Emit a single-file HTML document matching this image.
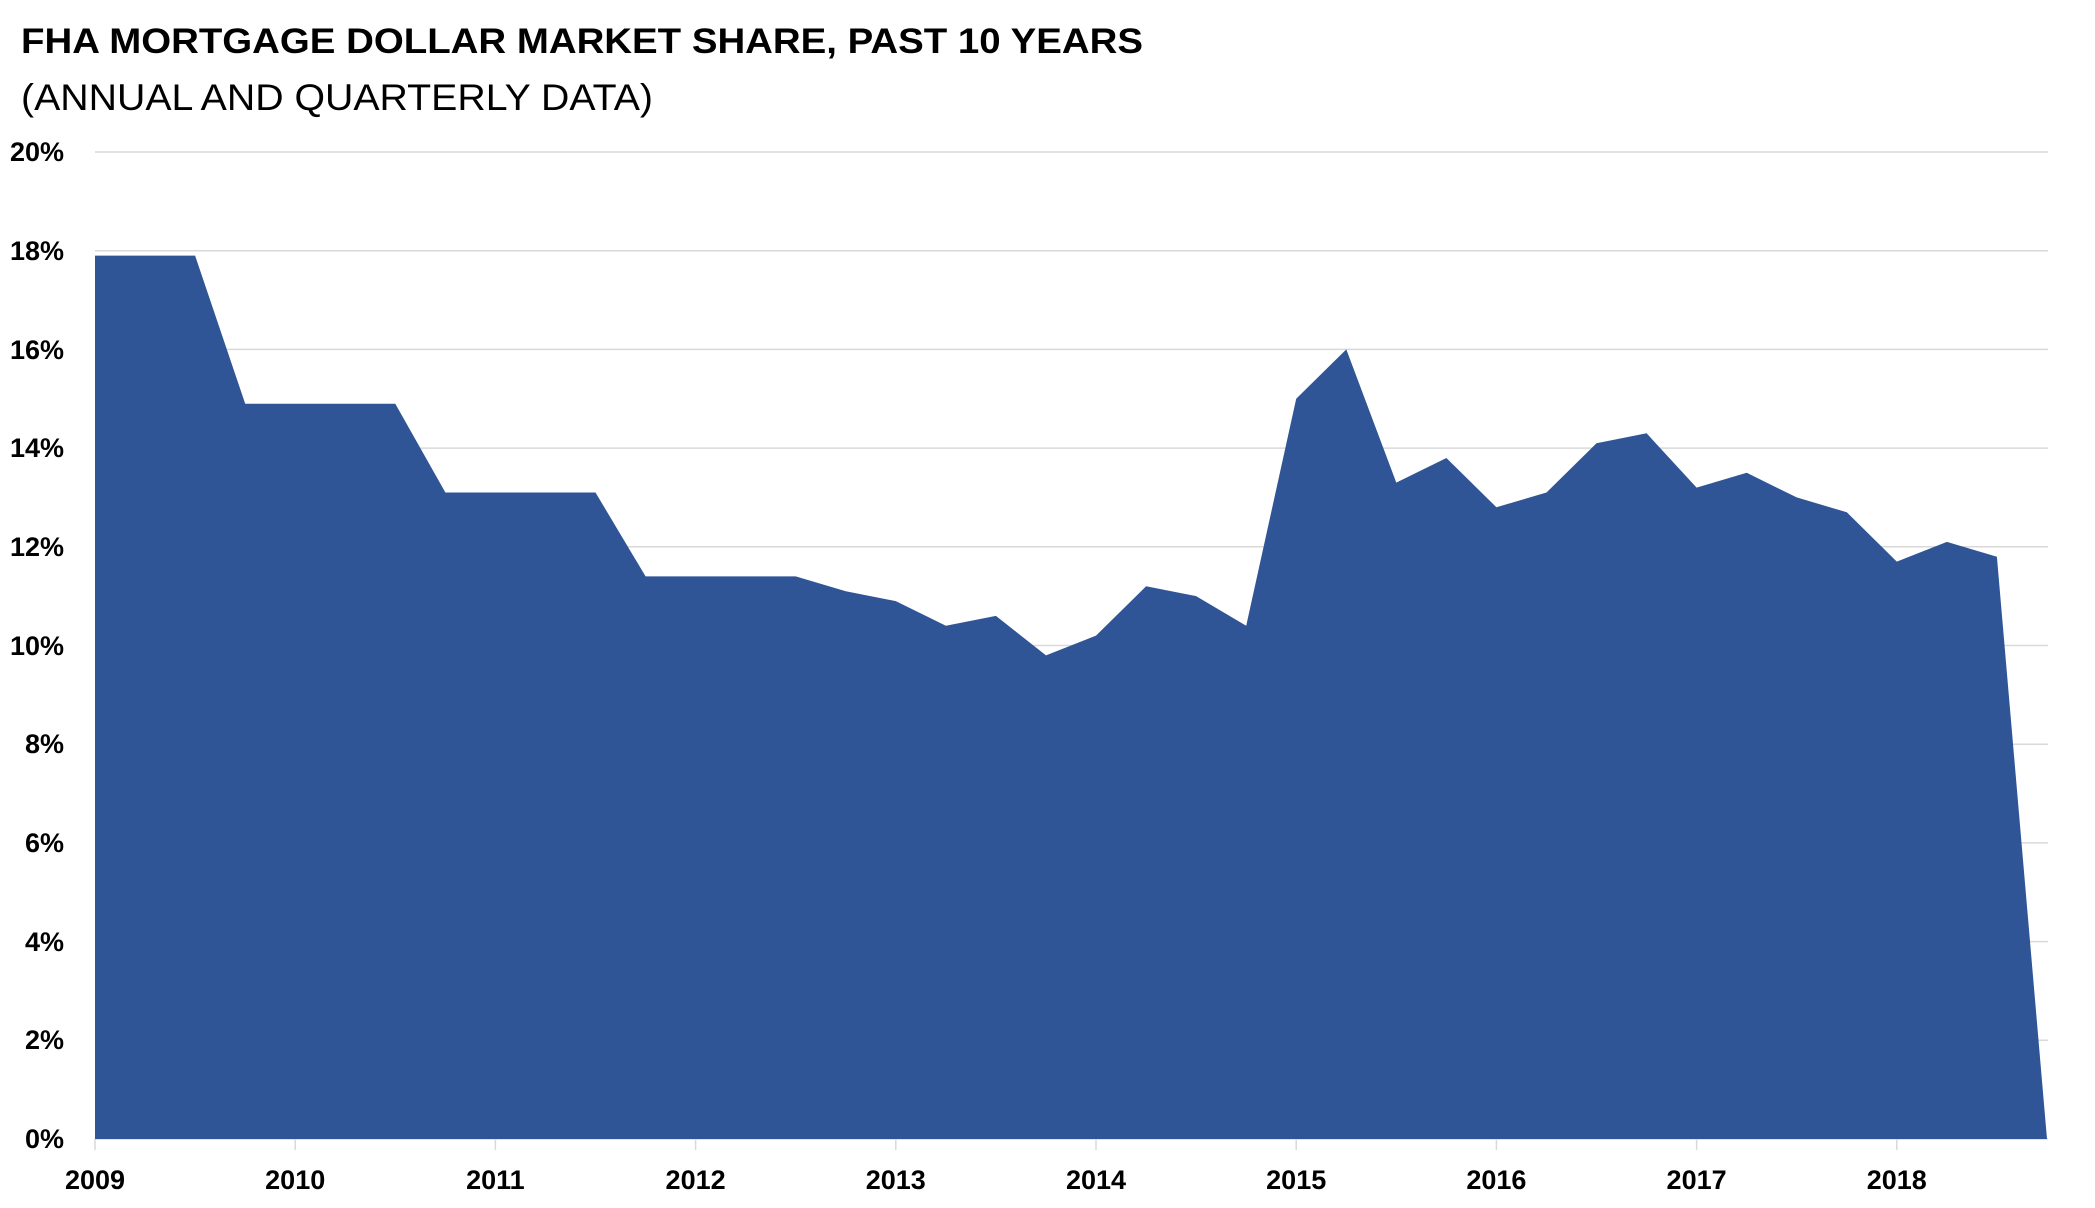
<!DOCTYPE html>
<html><head><meta charset="utf-8"><style>
html,body{margin:0;padding:0;background:#fff;}
svg{display:block;}
</style></head><body>
<svg width="2095" height="1208" viewBox="0 0 2095 1208" xmlns="http://www.w3.org/2000/svg" font-family="'Liberation Sans', sans-serif">
<text x="21" y="53" font-size="35" font-weight="bold" fill="#000" textLength="1122" lengthAdjust="spacingAndGlyphs">FHA MORTGAGE DOLLAR MARKET SHARE, PAST 10 YEARS</text>
<text x="21" y="110" font-size="37" fill="#000" textLength="632" lengthAdjust="spacingAndGlyphs">(ANNUAL AND QUARTERLY DATA)</text>
<g stroke="#d9d9d9" stroke-width="1.5">
<line x1="95" x2="2048" y1="152" y2="152"/>
<line x1="95" x2="2048" y1="250.7" y2="250.7"/>
<line x1="95" x2="2048" y1="349.4" y2="349.4"/>
<line x1="95" x2="2048" y1="448.1" y2="448.1"/>
<line x1="95" x2="2048" y1="546.8" y2="546.8"/>
<line x1="95" x2="2048" y1="645.5" y2="645.5"/>
<line x1="95" x2="2048" y1="744.2" y2="744.2"/>
<line x1="95" x2="2048" y1="842.9" y2="842.9"/>
<line x1="95" x2="2048" y1="941.6" y2="941.6"/>
<line x1="95" x2="2048" y1="1040.3" y2="1040.3"/>
<line x1="95" x2="2048" y1="1139" y2="1139"/>
</g>
<polygon fill="#2f5597" points="95,255.6 145.1,255.6 195.1,255.6 245.2,403.7 295.2,403.7 345.3,403.7 395.3,403.7 445.4,492.5 495.4,492.5 545.5,492.5 595.5,492.5 645.6,576.4 695.6,576.4 745.7,576.4 795.7,576.4 845.8,591.2 895.8,601.1 945.9,625.8 995.9,615.9 1046,655.4 1096,635.6 1146.1,586.3 1196.1,596.1 1246.2,625.8 1296.2,398.7 1346.3,349.4 1396.3,482.6 1446.4,458 1496.4,507.3 1546.5,492.5 1596.5,443.2 1646.6,433.3 1696.6,487.6 1746.7,472.8 1796.7,497.4 1846.8,512.3 1896.8,561.6 1946.9,541.9 1996.9,556.7 2047,1139 95,1139"/>
<g stroke="#d9d9d9" stroke-width="1.5">
<line x1="95" x2="95" y1="1139" y2="1150"/>
<line x1="295.2" x2="295.2" y1="1139" y2="1150"/>
<line x1="495.4" x2="495.4" y1="1139" y2="1150"/>
<line x1="695.6" x2="695.6" y1="1139" y2="1150"/>
<line x1="895.8" x2="895.8" y1="1139" y2="1150"/>
<line x1="1096" x2="1096" y1="1139" y2="1150"/>
<line x1="1296.2" x2="1296.2" y1="1139" y2="1150"/>
<line x1="1496.4" x2="1496.4" y1="1139" y2="1150"/>
<line x1="1696.6" x2="1696.6" y1="1139" y2="1150"/>
<line x1="1896.8" x2="1896.8" y1="1139" y2="1150"/>
</g>
<g font-size="27" font-weight="bold" text-anchor="end" fill="#000">
<text x="64" y="161">20%</text>
<text x="64" y="260">18%</text>
<text x="64" y="359">16%</text>
<text x="64" y="457">14%</text>
<text x="64" y="556">12%</text>
<text x="64" y="655">10%</text>
<text x="64" y="753">8%</text>
<text x="64" y="852">6%</text>
<text x="64" y="951">4%</text>
<text x="64" y="1049">2%</text>
<text x="64" y="1148">0%</text>
</g>
<g font-size="27" font-weight="bold" text-anchor="middle" fill="#000">
<text x="95" y="1189">2009</text>
<text x="295.2" y="1189">2010</text>
<text x="495.4" y="1189">2011</text>
<text x="695.6" y="1189">2012</text>
<text x="895.8" y="1189">2013</text>
<text x="1096" y="1189">2014</text>
<text x="1296.2" y="1189">2015</text>
<text x="1496.4" y="1189">2016</text>
<text x="1696.6" y="1189">2017</text>
<text x="1896.8" y="1189">2018</text>
</g>
</svg>
</body></html>
